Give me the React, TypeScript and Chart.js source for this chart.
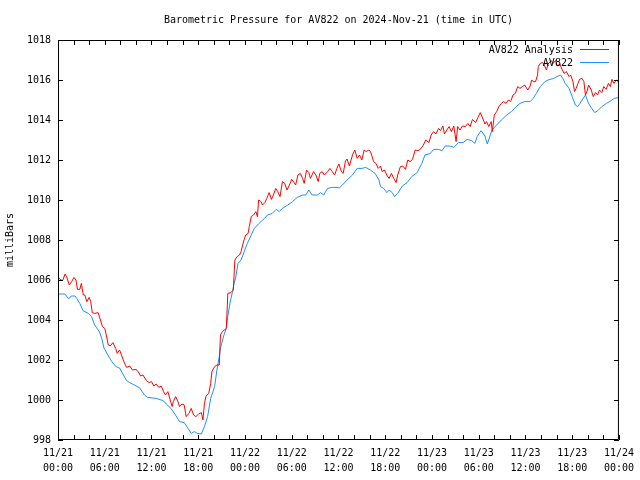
import React, { useEffect, useRef } from 'react';
import { Chart, registerables } from 'chart.js';

Chart.register(...registerables);

const TITLE = 'Barometric Pressure for AV822 on 2024-Nov-21 (time in UTC)';
const Y_LABEL = 'milliBars';
const SERIES_NAMES = ['AV822 Analysis', 'AV822'];
const SERIES_COLORS = ['#ff0000', '#1e90ff'];

const tickDates = ['11/21', '11/21', '11/21', '11/21', '11/22', '11/22', '11/22', '11/22', '11/23', '11/23', '11/23', '11/23', '11/24'];
const tickTimes = ['00:00', '06:00', '12:00', '18:00', '00:00', '06:00', '12:00', '18:00', '00:00', '06:00', '12:00', '18:00', '00:00'];

// hours since 2024-11-21 00:00 UTC
const analysisHours = [
  0, 0.25, 0.6, 0.9, 1.1, 1.45, 1.75, 2.05, 2.3, 2.5,
  2.8, 3.0, 3.25, 3.45, 3.7, 4.0, 4.2, 4.4, 4.7, 5.15,
  5.45, 5.7, 6.0, 6.2, 6.45, 6.7, 7.05, 7.4, 7.6, 7.9,
  8.15, 8.45, 8.8, 9.2, 9.55, 10.0, 10.3, 10.6, 10.9, 11.35,
  11.7, 12.0, 12.3, 12.6, 12.95, 13.25, 13.55, 13.8, 14.1, 14.4,
  14.65, 14.8, 15.1, 15.4, 15.6, 15.9, 16.2, 16.45, 16.8, 17.1,
  17.4, 17.7, 18.05, 18.4, 18.6, 18.8, 19.0, 19.35, 19.6, 19.75,
  20.1, 20.4, 20.7, 20.85, 21.1, 21.6, 21.8, 22.2, 22.5, 22.7,
  23.0, 23.3, 23.5, 23.7, 23.9, 24.1, 24.4, 24.55, 24.8, 25.1,
  25.4, 25.6, 25.75, 26.05, 26.25, 26.55, 26.8, 27.1, 27.4, 27.65,
  27.95, 28.2, 28.5, 28.8, 29.1, 29.4, 29.7, 30.0, 30.3, 30.5,
  30.8, 31.1, 31.4, 31.6, 31.9, 32.2, 32.4, 32.8, 33.1, 33.4,
  33.6, 33.9, 34.2, 34.6, 34.9, 35.2, 35.5, 35.8, 36.05, 36.4,
  36.6, 36.9, 37.1, 37.4, 37.8, 38.1, 38.4, 38.7, 39.0, 39.3,
  39.55, 39.9, 40.1, 40.3, 40.5, 40.8, 41.1, 41.4, 41.6, 41.9,
  42.2, 42.5, 42.8, 43.1, 43.4, 43.6, 43.95, 44.25, 44.6, 44.9,
  45.2, 45.5, 45.85, 46.2, 46.5, 46.9, 47.2, 47.6, 47.9, 48.2,
  48.5, 48.85, 49.1, 49.4, 49.6, 49.9, 50.2, 50.5, 50.8, 51.1,
  51.3, 51.6, 51.9, 52.3, 52.6, 52.9, 53.2, 53.6, 53.9, 54.2,
  54.5, 54.8, 55.0, 55.3, 55.6, 55.75, 56.0, 56.3, 56.6, 56.9,
  57.2, 57.5, 57.8, 58.1, 58.4, 58.7, 59.0, 59.3, 59.6, 59.9,
  60.3, 60.6, 60.8, 61.0, 61.3, 61.55, 61.65, 61.9, 62.2, 62.4,
  62.7, 62.9, 63.3, 63.55, 63.85, 64.1, 64.4, 64.7, 64.95, 65.25,
  65.6, 65.8, 66.1, 66.3, 66.5, 66.75, 66.95, 67.25, 67.5, 67.7,
  67.95, 68.1, 68.45, 68.7, 69.0, 69.25, 69.5, 69.8, 70.05, 70.35,
  70.65, 70.9, 71.1, 71.35, 71.65, 71.9, 72.0,
];

const analysisValues = [
  1006.17, 1006.03, 1005.97, 1006.30, 1006.17, 1005.75, 1005.92, 1006.13, 1006.00, 1005.53,
  1005.53, 1005.83, 1005.25, 1005.25, 1004.92, 1005.13, 1004.92, 1004.37, 1004.33, 1004.37,
  1004.00, 1003.67, 1003.58, 1003.25, 1002.75, 1002.70, 1002.87, 1002.58, 1002.33, 1002.50,
  1002.25, 1001.92, 1001.63, 1001.70, 1001.50, 1001.53, 1001.42, 1001.20, 1001.25, 1000.97,
  1000.87, 1000.92, 1000.70, 1000.80, 1000.63, 1000.70, 1000.42, 1000.25, 1000.42, 1000.00,
  999.67, 999.92, 1000.17, 999.92, 999.67, 999.80, 999.75, 999.17, 999.33, 999.58,
  999.25, 999.17, 999.30, 999.37, 999.00, 999.83, 1000.20, 1000.33, 1000.83, 1001.42,
  1001.67, 1001.75, 1001.75, 1003.25, 1003.42, 1003.58, 1005.33, 1005.37, 1005.50, 1007.00,
  1007.17, 1007.25, 1007.42, 1007.75, 1008.03, 1008.25, 1008.33, 1008.67, 1009.17, 1009.25,
  1009.42, 1009.17, 1010.00, 1009.92, 1009.75, 1009.87, 1010.08, 1010.37, 1010.03, 1010.25,
  1010.58, 1010.42, 1010.17, 1010.92, 1010.83, 1010.50, 1010.75, 1011.03, 1010.87, 1010.75,
  1011.25, 1011.33, 1011.08, 1010.83, 1011.50, 1011.37, 1011.08, 1011.42, 1011.25, 1010.92,
  1011.33, 1011.42, 1011.25, 1011.42, 1011.58, 1011.42, 1011.25, 1011.58, 1011.80, 1011.40,
  1011.33, 1011.95, 1012.05, 1011.70, 1012.25, 1012.50, 1012.08, 1012.25, 1012.00, 1012.50,
  1012.42, 1012.50, 1012.42, 1012.20, 1011.92, 1011.83, 1011.58, 1011.70, 1011.42, 1011.50,
  1011.25, 1011.08, 1011.33, 1011.08, 1010.87, 1011.25, 1011.67, 1011.70, 1011.53, 1012.00,
  1011.92, 1012.03, 1012.50, 1012.47, 1012.53, 1012.75, 1013.00, 1012.87, 1013.25, 1013.42,
  1013.30, 1013.58, 1013.47, 1013.70, 1013.30, 1013.50, 1013.67, 1013.42, 1013.70, 1012.92,
  1013.67, 1013.50, 1013.70, 1013.67, 1013.83, 1013.67, 1014.03, 1013.87, 1014.13, 1014.37,
  1014.10, 1013.80, 1013.92, 1013.67, 1013.92, 1013.42, 1014.25, 1014.42, 1014.67, 1014.83,
  1014.92, 1014.83, 1015.00, 1014.92, 1015.25, 1015.33, 1015.67, 1015.58, 1015.67, 1015.75,
  1015.50, 1015.70, 1016.00, 1015.92, 1015.92, 1016.25, 1016.67, 1016.83, 1016.87, 1016.75,
  1016.50, 1016.80, 1016.97, 1016.83, 1016.97, 1016.70, 1016.80, 1016.53, 1016.33, 1016.42,
  1016.17, 1016.25, 1015.92, 1015.42, 1015.58, 1015.83, 1016.03, 1016.08, 1015.92, 1015.25,
  1015.50, 1015.75, 1015.50, 1015.17, 1015.37, 1015.25, 1015.50, 1015.37, 1015.67, 1015.53,
  1015.83, 1015.67, 1016.03, 1015.83, 1016.00, 1015.92, 1016.05,
];

const stationHours = [
  0.0, 0.9, 1.3, 1.5, 1.7, 2.2, 2.4, 2.8, 3.2, 3.9,
  4.3, 4.7, 5.3, 5.6, 5.9, 6.4, 6.9, 7.5, 7.9, 8.4,
  8.8, 9.2, 9.8, 10.5, 11.1, 11.5, 12.6, 13.5, 13.9, 14.5,
  15.0, 15.6, 16.2, 16.7, 17.1, 17.5, 17.9, 18.4, 18.8, 19.2,
  19.6, 20.1, 20.4, 20.7, 20.9, 21.3, 21.6, 21.8, 22.1, 22.4,
  22.6, 22.8, 23.1, 23.5, 23.9, 24.3, 24.8, 25.2, 25.8, 26.5,
  26.9, 27.5, 28.0, 28.4, 28.8, 29.5, 30.1, 30.7, 31.4, 31.8,
  32.2, 32.6, 33.3, 33.7, 34.1, 34.6, 35.2, 35.8, 36.1, 36.5,
  37.1, 37.8, 38.4, 39.0, 39.5, 40.1, 40.7, 41.2, 41.4, 41.8,
  42.2, 42.5, 42.9, 43.2, 43.6, 44.2, 44.8, 45.4, 46.1, 46.7,
  47.1, 47.8, 48.2, 48.8, 49.3, 49.7, 50.3, 50.8, 51.4, 52.0,
  52.5, 53.1, 53.5, 53.8, 54.3, 54.8, 55.1, 55.7, 56.3, 56.9,
  57.6, 58.2, 58.9, 59.3, 59.9, 60.6, 61.0, 61.4, 61.9, 62.5,
  62.9, 63.6, 64.2, 64.5, 64.8, 65.1, 65.6, 66.0, 66.4, 66.7,
  67.0, 67.4, 67.7, 68.1, 68.5, 68.9, 69.3, 69.8, 70.4, 71.0,
  71.4, 72.0,
];

const stationValues = [
  1005.30, 1005.30, 1005.08, 1005.10, 1005.20, 1005.20, 1005.08, 1004.83, 1004.47, 1004.33,
  1004.17, 1003.75, 1003.42, 1003.10, 1002.60, 1002.25, 1001.92, 1001.65, 1001.60, 1001.25,
  1000.97, 1000.87, 1000.75, 1000.60, 1000.25, 1000.13, 1000.08, 999.97, 999.80, 999.58,
  999.30, 998.92, 998.87, 998.58, 998.33, 998.42, 998.33, 998.30, 998.67, 999.17,
  1000.08, 1000.67, 1001.50, 1002.17, 1002.67, 1003.25, 1003.58, 1004.20, 1004.90, 1005.42,
  1005.83, 1006.10, 1006.83, 1007.00, 1007.42, 1007.83, 1008.25, 1008.58, 1008.83, 1009.08,
  1009.25, 1009.33, 1009.53, 1009.42, 1009.58, 1009.75, 1009.92, 1010.13, 1010.25, 1010.25,
  1010.50, 1010.25, 1010.25, 1010.37, 1010.25, 1010.58, 1010.63, 1010.63, 1010.60, 1010.75,
  1011.00, 1011.25, 1011.58, 1011.58, 1011.63, 1011.50, 1011.33, 1011.00, 1010.67, 1010.58,
  1010.37, 1010.50, 1010.37, 1010.17, 1010.33, 1010.70, 1010.87, 1011.17, 1011.37, 1011.83,
  1012.25, 1012.33, 1012.53, 1012.53, 1012.47, 1012.70, 1012.70, 1012.63, 1012.87, 1012.87,
  1013.03, 1012.97, 1012.83, 1013.17, 1013.47, 1013.20, 1012.80, 1013.50, 1013.75, 1014.00,
  1014.25, 1014.42, 1014.70, 1014.83, 1014.92, 1014.92, 1015.08, 1015.33, 1015.67, 1015.92,
  1016.00, 1016.08, 1016.20, 1016.25, 1016.08, 1015.83, 1015.58, 1015.17, 1014.75, 1014.67,
  1014.83, 1015.08, 1015.25, 1014.83, 1014.58, 1014.37, 1014.47, 1014.67, 1014.83, 1014.97,
  1015.08, 1015.13,
];

const FONT_FAMILY = "'DejaVu Sans Mono', monospace";

const framePlugin = {
  id: 'frame',
  afterDatasetsDraw(chart: any) {
    const { ctx, chartArea } = chart;
    const { left, right, top, bottom } = chartArea;
    const xs = chart.scales.x;
    const ys = chart.scales.y;
    ctx.save();
    ctx.strokeStyle = '#000';
    ctx.lineWidth = 1;
    ctx.beginPath();
    ctx.rect(left + 0.5, top + 0.5, right - left - 1, bottom - top - 1);
    // x ticks every 2 hours, inward, top and bottom
    for (let h = 0; h <= 72; h += 2) {
      const px = Math.round(xs.getPixelForValue(h)) + 0.5;
      ctx.moveTo(px, bottom);
      ctx.lineTo(px, bottom - 5);
      ctx.moveTo(px, top);
      ctx.lineTo(px, top + 5);
    }
    // y ticks every 2 mb, inward, left and right
    for (let v = ys.min; v <= ys.max; v += 2) {
      const py = Math.round(ys.getPixelForValue(v)) + 0.5;
      ctx.moveTo(left, py);
      ctx.lineTo(left + 5, py);
      ctx.moveTo(right, py);
      ctx.lineTo(right - 5, py);
    }
    ctx.stroke();

    // title
    ctx.fillStyle = '#000';
    ctx.font = `10px ${FONT_FAMILY}`;
    ctx.textAlign = 'center';
    ctx.textBaseline = 'middle';
    ctx.fillText(TITLE, (left + right) / 2, 20);

    // legend (inside, top right)
    chart.data.datasets.forEach((ds: any, i: number) => {
      const y = 50 + i * 13;
      ctx.textAlign = 'right';
      ctx.fillStyle = '#000';
      ctx.fillText(ds.label, right - 46, y);
      ctx.strokeStyle = ds.borderColor;
      ctx.beginPath();
      ctx.moveTo(right - 39, y - 0.5);
      ctx.lineTo(right - 10, y - 0.5);
      ctx.stroke();
    });
    ctx.restore();
  },
};

export default function App() {
  const ref = useRef<HTMLCanvasElement>(null);

  useEffect(() => {
    const canvas = ref.current;
    if (!canvas) return;
    const chart = new Chart(canvas, {
      type: 'line',
      data: {
        datasets: [
          {
            label: SERIES_NAMES[0],
            data: analysisHours.map((h, i) => ({ x: h, y: analysisValues[i] })),
            borderColor: SERIES_COLORS[0],
            backgroundColor: SERIES_COLORS[0],
            borderWidth: 1,
            pointRadius: 0,
            tension: 0,
            fill: false,
          },
          {
            label: SERIES_NAMES[1],
            data: stationHours.map((h, i) => ({ x: h, y: stationValues[i] })),
            borderColor: SERIES_COLORS[1],
            backgroundColor: SERIES_COLORS[1],
            borderWidth: 1,
            pointRadius: 0,
            tension: 0,
            fill: false,
          },
        ],
      },
      options: {
        responsive: false,
        animation: false,
        devicePixelRatio: 1,
        events: [],
        layout: { padding: { top: 40, right: 19, left: 0, bottom: 0 } },
        plugins: {
          legend: { display: false },
          tooltip: { enabled: false },
          title: { display: false },
        },
        scales: {
          x: {
            type: 'linear',
            min: 0,
            max: 72,
            grid: { display: false, drawTicks: false },
            border: { display: false },
            ticks: {
              stepSize: 6,
              autoSkip: false,
              maxRotation: 0,
              padding: 6,
              color: '#000',
              font: { family: FONT_FAMILY, size: 10, lineHeight: 1.5 },
              callback: (value: any) => {
                const i = Math.round(Number(value) / 6);
                return [tickDates[i], tickTimes[i]];
              },
            },
            afterFit: (scale: any) => {
              scale.height = 40;
            },
          },
          y: {
            type: 'linear',
            min: 998,
            max: 1018,
            grid: { display: false, drawTicks: false },
            border: { display: false },
            ticks: {
              stepSize: 2,
              padding: 7,
              color: '#000',
              font: { family: FONT_FAMILY, size: 10 },
              callback: (value: any) => String(value),
            },
            title: {
              display: true,
              text: Y_LABEL,
              color: '#000',
              font: { family: FONT_FAMILY, size: 10 },
              padding: { top: 4, bottom: 0 },
            },
            afterFit: (scale: any) => {
              scale.width = 58;
            },
          },
        },
      },
      plugins: [framePlugin],
    });
    return () => chart.destroy();
  }, []);

  return (
    <div style={{ position: 'absolute', left: 0, top: 0, width: 640, height: 480, background: '#fff' }}>
      <canvas ref={ref} width={640} height={480} style={{ display: 'block', width: 640, height: 480 }} />
    </div>
  );
}
